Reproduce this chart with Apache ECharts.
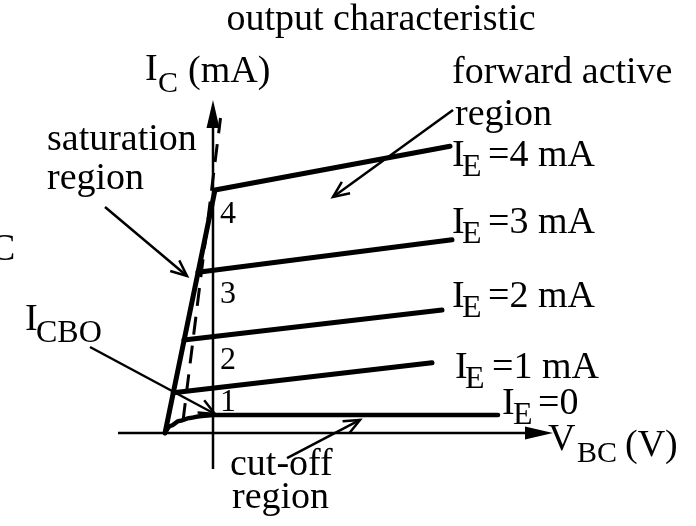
<!DOCTYPE html>
<html>
<head>
<meta charset="utf-8">
<script src="https://cdn.jsdelivr.net/npm/echarts@6/dist/echarts.min.js"></script>
<style>
  html, body { margin: 0; padding: 0; background: #fff; }
  #chart { width: 696px; height: 526px; }
</style>
</head>
<body>
<div id="chart"></div>
<script>
// Collector current I_C (mA) against V_BC (V), one curve per emitter current.
const curveIE4 = [[-0.96, 0], [0.04, 4.05], [4.74, 4.78]];
const curveIE3 = [[-0.30, 2.68], [4.78, 3.22]];
const curveIE2 = [[-0.58, 1.55], [4.58, 2.05]];
const curveIE1 = [[-0.795, 0.67], [4.38, 1.17]];
const curveIE0 = [[-0.96, 0], [-0.84, 0.12], [-0.68, 0.2], [-0.46, 0.25], [-0.22, 0.285], [0, 0.3], [5.7, 0.3]];
const edgeLine = [[-0.6, 0.2], [0.15, 5.25]];

// Axes (kind 1 = filled head) and callout arrows (kind 0 = open head): x1, y1, x2, y2, kind
const axisArrows = [[0, -0.6, 0, 5.55, 1], [-1.9, 0, 6.8, 0, 1]];
const calloutArrows = [
  [-2.16, 3.767, -0.52, 2.617, 0],
  [4.8, 5.383, 2.4, 3.933, 0],
  [-2.46, 1.433, 0.04, 0.317, 0],
  [1.48, -0.417, 2.94, 0.217, 0]
];

const tickLabels = ['1', '2', '3', '4'];
const curveNames = ['4 mA', '3 mA', '2 mA', '1 mA', '0'];

const SERIF = '"Liberation Serif", "Times New Roman", serif';
const chart = echarts.init(document.getElementById('chart'), null, { renderer: 'canvas' });

function curve(name, data, width, extra) {
  return Object.assign({
    name: name,
    type: 'line',
    data: data,
    symbol: 'none',
    silent: true,
    animation: false,
    lineStyle: { color: '#000', width: width, cap: 'round', join: 'round' }
  }, extra || {});
}

function renderArrow(params, api) {
  const p1 = api.coord([api.value(0), api.value(1)]);
  const p2 = api.coord([api.value(2), api.value(3)]);
  const filled = api.value(4) === 1;
  const dx = p2[0] - p1[0], dy = p2[1] - p1[1];
  const len = Math.hypot(dx, dy);
  const ux = dx / len, uy = dy / len, nx = -uy, ny = ux;
  const L = filled ? 28 : 16, W = filled ? 6.5 : 7;
  const bx = p2[0] - ux * L, by = p2[1] - uy * L;
  const a = [bx + nx * W, by + ny * W];
  const b = [bx - nx * W, by - ny * W];
  const children = [];
  if (filled) {
    children.push({ type: 'line', shape: { x1: p1[0], y1: p1[1], x2: bx + ux * 4, y2: by + uy * 4 },
      style: { stroke: '#000', lineWidth: 2.5 } });
    children.push({ type: 'polygon', shape: { points: [p2, a, b] }, style: { fill: '#000' } });
  } else {
    children.push({ type: 'line', shape: { x1: p1[0], y1: p1[1], x2: p2[0], y2: p2[1] },
      style: { stroke: '#000', lineWidth: 2.5 } });
    children.push({ type: 'polyline', shape: { points: [a, p2, b] },
      style: { stroke: '#000', lineWidth: 2.5, fill: null } });
  }
  return { type: 'group', children: children };
}

function arrows(name, data) {
  return {
    name: name,
    type: 'custom',
    data: data,
    renderItem: renderArrow,
    clip: false,
    silent: true,
    animation: false,
    encode: { x: [0, 2], y: [1, 3] },
    z: 3
  };
}

function txt(s, x, y, size, align) {
  const a = align || 'left';
  return {
    type: 'text', x: x, y: y, silent: true,
    style: {
      text: s, font: size + 'px ' + SERIF, fill: '#000',
      align: a, verticalAlign: 'middle',
      textAlign: a, textVerticalAlign: 'middle'
    }
  };
}

const BIG = 38, SUB = 32, SUB_S = 30;
// label rows: cap centre y, x of "I", x of subscript, x of "=..."
const labelRows = [[156, 452, 462, 488], [223, 452, 462, 488], [297, 452, 462, 488], [368, 455, 465, 492], [404, 502, 513, 538]];
const texts = [
  txt('output characteristic', 381, 20, BIG, 'center'),
  txt('I', 145, 70, BIG), txt('C', 158, 84, SUB_S), txt('(mA)', 188, 72, BIG),
  txt('saturation', 47, 140, BIG), txt('region', 47, 179, BIG),
  txt('forward active', 452, 73, BIG), txt('region', 455, 115, BIG),
  txt('V', 548, 440, BIG), txt('BC', 577, 454, SUB_S), txt('(V)', 625, 446, BIG),
  txt('I', 25, 320, BIG), txt('CBO', 36, 334, SUB),
  txt('C', -10, 250, BIG),
  txt('cut-off', 230, 465, BIG), txt('region', 232, 498, BIG)
];
labelRows.forEach(function (r, i) {
  texts.push(txt('I', r[1], r[0], BIG));
  texts.push(txt('E', r[2], r[0] + 12, SUB));
  texts.push(txt('=' + curveNames[i], r[3], r[0], BIG));
});
const tickY = [403, 361, 295, 215];
tickLabels.forEach(function (t, i) { texts.push(txt(t, 220, tickY[i], 32)); });

chart.setOption({
  backgroundColor: '#fff',
  animation: false,
  grid: { left: 0, right: 0, top: 0, bottom: 0 },
  xAxis: { type: 'value', min: -4.26, max: 9.66, show: false },
  yAxis: { type: 'value', min: -1.55, max: 7.2167, show: false },
  series: [
    curve('I_E=4 mA', curveIE4, 5),
    curve('I_E=3 mA', curveIE3, 5),
    curve('I_E=2 mA', curveIE2, 5),
    curve('I_E=1 mA', curveIE1, 5),
    curve('I_E=0', curveIE0, 4.5, { smooth: 0.35, smoothMonotone: 'x' }),
    curve('edge', edgeLine, 3, { lineStyle: { color: '#000', width: 3, type: [18, 11] } }),
    arrows('axes', axisArrows),
    arrows('callouts', calloutArrows)
  ],
  graphic: { elements: texts }
});
</script>
</body>
</html>
